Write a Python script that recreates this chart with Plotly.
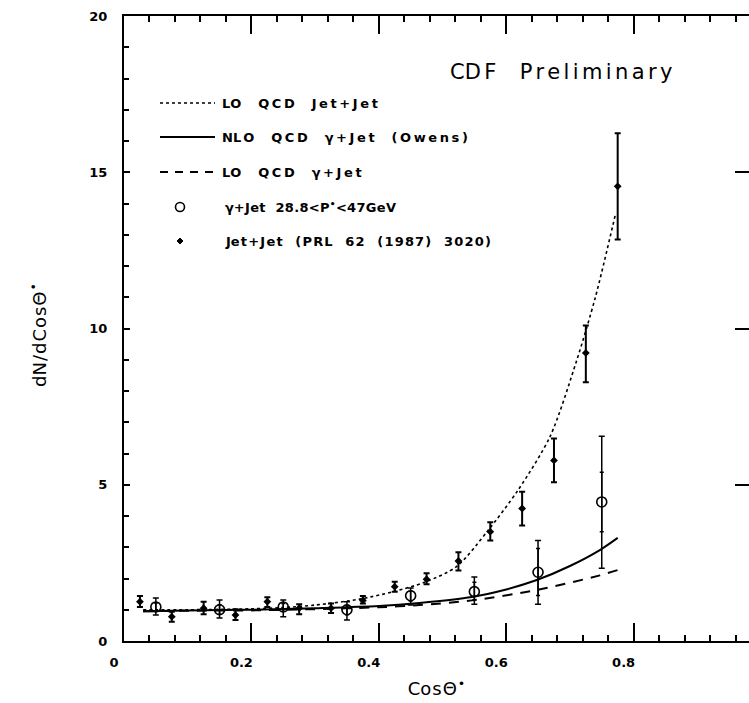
import plotly.graph_objects as go

# ---------------- data ----------------
# Jet+Jet (PRL 62 (1987) 3020)
jj_x = [0.025, 0.075, 0.125, 0.175, 0.225, 0.275, 0.325, 0.375, 0.425, 0.475,
        0.525, 0.575, 0.625, 0.675, 0.725, 0.775]
jj_y = [1.26, 0.78, 1.05, 0.83, 1.26, 1.05, 1.05, 1.30, 1.74, 1.98,
        2.56, 3.50, 4.24, 5.78, 9.22, 14.55]
jj_hi = [1.44, 0.94, 1.26, 1.02, 1.40, 1.18, 1.20, 1.44, 1.90, 2.17,
         2.84, 3.80, 4.78, 6.48, 10.10, 16.25]
jj_lo = [1.09, 0.62, 0.86, 0.67, 1.09, 0.86, 0.90, 1.20, 1.58, 1.82,
         2.26, 3.22, 3.70, 5.08, 8.28, 12.85]

# gamma+Jet 28.8<P*<47GeV
gj_x = [0.05, 0.15, 0.25, 0.35, 0.45, 0.55, 0.65, 0.75]
gj_y = [1.09, 1.00, 1.09, 1.00, 1.45, 1.58, 2.20, 4.45]
gj_hi = [1.38, 1.31, 1.31, 1.26, 1.70, 2.05, 3.22, 6.55]
gj_lo = [0.83, 0.74, 0.78, 0.67, 1.15, 1.18, 1.18, 2.33]
gj_hi_stat = [1.22, 1.16, 1.20, 1.14, 1.60, 1.88, 2.96, 5.40]
gj_lo_stat = [0.96, 0.86, 0.95, 0.84, 1.28, 1.32, 1.46, 3.50]

# theory curves
lo_jj_x = [0.03, 0.10, 0.20, 0.25, 0.30, 0.37, 0.423, 0.472, 0.522, 0.57,
           0.619, 0.669, 0.711, 0.74, 0.772]
lo_jj_y = [1.00, 1.00, 1.03, 1.07, 1.15, 1.34, 1.58, 1.88, 2.38, 3.50,
           4.84, 6.55, 9.00, 11.0, 13.7]
nlo_gj_x = [0.03, 0.10, 0.20, 0.30, 0.40, 0.464, 0.546, 0.60, 0.648, 0.70, 0.747, 0.775]
nlo_gj_y = [0.95, 0.98, 1.00, 1.05, 1.12, 1.22, 1.41, 1.65, 1.95, 2.40, 2.91, 3.30]
lo_gj_x = [0.03, 0.10, 0.20, 0.30, 0.40, 0.464, 0.546, 0.648, 0.747, 0.775]
lo_gj_y = [0.95, 0.97, 0.98, 1.02, 1.08, 1.15, 1.30, 1.63, 2.10, 2.27]

x_ticks = [0, 0.2, 0.4, 0.6, 0.8]
x_ticklabels = ["0", "0.2", "0.4", "0.6", "0.8"]
y_ticks = [0, 5, 10, 15, 20]
y_ticklabels = ["0", "5", "10", "15", "20"]

legend_labels = [
    "LO  QCD  Jet+Jet",
    "NLO  QCD  γ+Jet  (Owens)",
    "LO  QCD  γ+Jet",
    "γ+Jet  28.8<P<sup>•</sup><47GeV",
    "Jet+Jet  (PRL  62  (1987)  3020)",
]

# ---------------- figure ----------------
BLACK = "black"
fig = go.Figure()

fig.add_trace(go.Scatter(x=lo_jj_x, y=lo_jj_y, mode="lines",
                         line=dict(color=BLACK, width=1.6, dash="dot", shape="spline", smoothing=0.8),
                         showlegend=False, hoverinfo="skip"))
fig.add_trace(go.Scatter(x=nlo_gj_x, y=nlo_gj_y, mode="lines",
                         line=dict(color=BLACK, width=2, shape="spline", smoothing=0.8),
                         showlegend=False, hoverinfo="skip"))
fig.add_trace(go.Scatter(x=lo_gj_x, y=lo_gj_y, mode="lines", yaxis="y2",
                         line=dict(color=BLACK, width=2, dash="10px,8px", shape="spline", smoothing=0.8),
                         showlegend=False, hoverinfo="skip"))

# jet+jet points
fig.add_trace(go.Scatter(
    x=jj_x, y=jj_y, mode="markers",
    marker=dict(symbol="diamond", size=6, color=BLACK),
    error_y=dict(type="data", symmetric=False,
                 array=[h - v for h, v in zip(jj_hi, jj_y)],
                 arrayminus=[v - l for v, l in zip(jj_y, jj_lo)],
                 color=BLACK, thickness=2, width=3),
    showlegend=False))

# gamma+jet stat errors (inner ticks)
fig.add_trace(go.Scatter(
    x=gj_x, y=gj_y, mode="markers",
    marker=dict(size=1, color="rgba(0,0,0,0)"),
    error_y=dict(type="data", symmetric=False,
                 array=[h - v for h, v in zip(gj_hi_stat, gj_y)],
                 arrayminus=[v - l for v, l in zip(gj_y, gj_lo_stat)],
                 color=BLACK, thickness=1.5, width=2),
    showlegend=False, hoverinfo="skip"))
# gamma+jet points
fig.add_trace(go.Scatter(
    x=gj_x, y=gj_y, mode="markers",
    marker=dict(symbol="circle-open", size=10, color=BLACK, line=dict(width=1.6)),
    error_y=dict(type="data", symmetric=False,
                 array=[h - v for h, v in zip(gj_hi, gj_y)],
                 arrayminus=[v - l for v, l in zip(gj_y, gj_lo)],
                 color=BLACK, thickness=1.5, width=3),
    showlegend=False))

# ---------------- manual legend ----------------
L, T, W, H = 124, 16, 625, 625
def px(x):
    return (x - L) / W
def py(y):
    return (T + H - y) / H

def spaced(txt, ls, size):
    # first character kept as plain text, rest letter-spaced
    return '%s<span style="letter-spacing:%gpx;font-size:%gpx">%s</span>' % (txt[0], ls, size, txt[1:])

rows_y = [103, 137, 172, 207, 241]
line_styles = ["dot", "solid", "dash"]
for i, dsh in enumerate(line_styles):
    fig.add_shape(type="line", xref="paper", yref="paper",
                  x0=px(160), x1=px(215), y0=py(rows_y[i]), y1=py(rows_y[i]),
                  line=dict(color=BLACK, width=1.6 if dsh == "dot" else 2,
                            dash="dot" if dsh == "dot" else ("8px,7px" if dsh == "dash" else "solid")))
# circle marker sample
fig.add_shape(type="circle", xref="paper", yref="paper", xsizemode="pixel", ysizemode="pixel",
              xanchor=px(180), yanchor=py(rows_y[3]), x0=-4.5, x1=4.5, y0=-4.5, y1=4.5,
              line=dict(color=BLACK, width=1.6))
# diamond marker sample
fig.add_shape(type="path", xref="paper", yref="paper", xsizemode="pixel", ysizemode="pixel",
              xanchor=px(180), yanchor=py(rows_y[4]),
              path="M 0 3 L 3 0 L 0 -3 L -3 0 Z", fillcolor=BLACK, line=dict(color=BLACK, width=1))

text_x = [220, 220, 220, 223, 223]
letter_sp = [2.6, 2.6, 2.6, 0.3, 1.2]
for i, lab in enumerate(legend_labels):
    fig.add_annotation(xref="paper", yref="paper", x=px(text_x[i]), y=py(rows_y[i]),
                       xanchor="left", yanchor="middle", showarrow=False,
                       text=spaced(lab, letter_sp[i], 13),
                       font=dict(family="DejaVu Sans", size=13, color=BLACK, weight="bold"))

fig.add_annotation(xref="paper", yref="paper", x=px(448), y=py(72), xanchor="left", yanchor="middle",
                   showarrow=False,
                   text=spaced("CDF  Preliminary", 3.4, 21),
                   font=dict(family="DejaVu Sans", size=21, color=BLACK))

# y axis title
fig.add_annotation(xref="paper", yref="paper", x=px(38), y=py(335), xanchor="center", yanchor="middle",
                   showarrow=False, textangle=-90,
                   text=spaced("dN/dCosΘ", 1, 18) + "<sup>•</sup>",
                   font=dict(family="DejaVu Sans", size=18, color=BLACK))

tickfont = dict(family="DejaVu Sans", size=13, color=BLACK, weight="bold")

fig.update_layout(
    width=749, height=703,
    margin=dict(l=L, r=0, t=T, b=703 - T - H),
    paper_bgcolor="white", plot_bgcolor="white",
    showlegend=False,
    xaxis=dict(range=[0, (749 - L) / 637.0], tickvals=x_ticks, ticktext=x_ticklabels,
               ticks="inside", ticklen=18, tickwidth=1.5, tickcolor=BLACK,
               minor=dict(dtick=0.04, tick0=0, ticks="inside", ticklen=6, tickwidth=1.5, tickcolor=BLACK),
               showline=True, linewidth=2, linecolor=BLACK, mirror="ticks",
               showgrid=False, zeroline=False, tickfont=tickfont,
               ticklabelshift=-10, ticklabelstandoff=8,
               title=dict(text=spaced("CosΘ", 1, 18) + "<sup>•</sup>",
                          font=dict(family="DejaVu Sans", size=18, color=BLACK), standoff=14)),
    yaxis=dict(range=[0, 20], tickvals=y_ticks, ticktext=y_ticklabels,
               ticks="inside", ticklen=6, tickwidth=1.5, tickcolor=BLACK,
               minor=dict(dtick=1, tick0=0, ticks="inside", ticklen=5, tickwidth=1.5, tickcolor=BLACK),
               showline=True, linewidth=2, linecolor=BLACK, mirror=False,
               showgrid=False, zeroline=False, tickfont=tickfont, ticklabelstandoff=12),
    yaxis2=dict(range=[0, 20], overlaying="y", side="right", tickvals=[5, 10, 15],
                ticks="inside", ticklen=14, tickwidth=1.5, tickcolor=BLACK,
                showticklabels=False, showline=False, showgrid=False, zeroline=False),
)

fig.write_html("out.html")
